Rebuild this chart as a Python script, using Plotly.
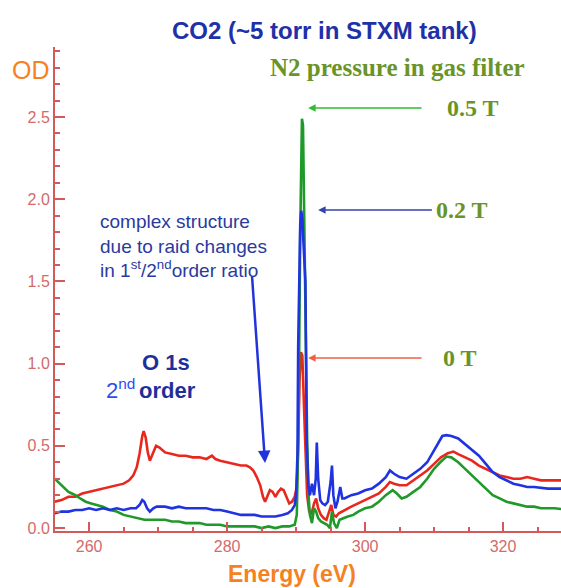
import plotly.graph_objects as go

# CO2 C 1s spectra, optical density vs photon energy, for three N2 gas-filter pressures
energy_0T = [255.0, 256.0, 257.0, 258.0, 259.0, 260.0, 261.0, 262.0, 263.0, 264.0, 265.0, 265.8,
             266.4, 266.9, 267.3, 267.7, 267.9, 268.2, 268.5, 268.8, 269.2, 269.7, 270.2, 271.0,
             272.0, 273.0, 274.0, 275.0, 276.0, 277.0, 277.8, 278.3, 279.0, 280.0, 281.0, 282.0,
             282.8, 283.3, 283.8, 284.3, 284.8, 285.2, 285.5, 285.8, 286.2, 286.6, 287.0, 287.4,
             287.8, 288.2, 288.6, 289.0, 289.4, 289.8, 290.1, 290.3, 290.5, 290.7, 290.9, 291.1,
             291.3, 291.6, 291.9, 292.2, 292.6, 292.9, 293.2, 293.6, 294.0, 294.4, 294.8, 295.1,
             295.4, 295.8, 296.2, 297.0, 298.0, 299.0, 300.0, 301.0, 302.0, 303.0, 303.6, 304.2,
             305.0, 306.0, 307.0, 308.0, 309.0, 310.0, 311.0, 312.0, 312.8, 313.5, 314.5, 315.5,
             316.5, 317.5, 318.5, 319.5, 320.5, 321.5, 322.5, 323.5, 324.5, 325.5, 326.5, 327.5,
             328.5]
od_0T = [0.16, 0.17, 0.19, 0.19, 0.21, 0.22, 0.23, 0.24, 0.25, 0.26, 0.27, 0.29,
         0.32, 0.37, 0.45, 0.56, 0.59, 0.55, 0.46, 0.41, 0.45, 0.50, 0.49, 0.46,
         0.45, 0.44, 0.44, 0.43, 0.43, 0.42, 0.44, 0.42, 0.41, 0.40, 0.39, 0.38,
         0.38, 0.37, 0.35, 0.31, 0.26, 0.19, 0.16, 0.19, 0.23, 0.22, 0.19, 0.22,
         0.24, 0.23, 0.19, 0.15, 0.16, 0.19, 0.25, 0.50, 0.90, 1.07, 1.05, 0.85,
         0.55, 0.20, 0.10, 0.08, 0.15, 0.18, 0.12, 0.08, 0.06, 0.05, 0.10, 0.14,
         0.08, 0.07, 0.09, 0.11, 0.13, 0.15, 0.17, 0.19, 0.21, 0.25, 0.28, 0.27,
         0.26, 0.26, 0.29, 0.32, 0.35, 0.39, 0.43, 0.455, 0.465, 0.45, 0.43, 0.41,
         0.38, 0.36, 0.34, 0.32, 0.31, 0.30, 0.30, 0.31, 0.30, 0.29, 0.29, 0.29,
         0.29]

energy_02T = [255.0, 256.0, 257.0, 258.0, 259.0, 260.0, 261.0, 262.0, 263.0, 264.0, 265.0, 266.0,
              266.8, 267.3, 267.7, 268.0, 268.4, 268.8, 269.3, 269.8, 271.0, 272.0, 273.0, 274.0,
              275.0, 276.0, 277.0, 278.0, 279.0, 280.0, 281.0, 282.0, 283.0, 284.0, 285.0, 286.0,
              287.0, 288.0, 288.8, 289.4, 289.8, 290.0, 290.2, 290.3, 290.45, 290.6, 290.75, 290.9,
              291.05, 291.2, 291.35, 291.45, 291.55, 291.8, 292.0, 292.3, 292.6, 292.85, 293.0, 293.2,
              293.5, 293.8, 294.2, 294.6, 295.0, 295.2, 295.4, 295.7, 296.0, 296.4, 296.7, 297.0,
              298.0, 299.0, 300.0, 301.0, 302.0, 303.0, 303.6, 304.2, 305.0, 306.0, 307.0, 308.0,
              309.0, 310.0, 310.6, 311.2, 311.8, 312.5, 313.5, 314.5, 315.5, 316.5, 317.5, 318.5,
              319.5, 320.5, 321.5, 322.5, 323.5, 324.5, 325.5, 326.5, 327.5, 328.5]
od_02T = [0.09, 0.10, 0.10, 0.11, 0.11, 0.12, 0.11, 0.12, 0.11, 0.12, 0.11, 0.12,
          0.12, 0.14, 0.17, 0.16, 0.12, 0.10, 0.12, 0.13, 0.13, 0.12, 0.13, 0.12,
          0.12, 0.12, 0.12, 0.11, 0.11, 0.10, 0.09, 0.08, 0.08, 0.08, 0.07, 0.07,
          0.07, 0.08, 0.09, 0.11, 0.14, 0.20, 0.45, 1.10, 1.60, 1.85, 1.93, 1.88,
          1.75, 1.65, 1.50, 1.00, 0.50, 0.25, 0.20, 0.27, 0.20, 0.30, 0.52, 0.30,
          0.17, 0.15, 0.14, 0.16, 0.28, 0.38, 0.20, 0.12, 0.16, 0.25, 0.18, 0.18,
          0.20, 0.21, 0.23, 0.24, 0.27, 0.31, 0.35, 0.33, 0.31, 0.30, 0.33, 0.36,
          0.40, 0.47, 0.52, 0.56, 0.565, 0.56, 0.545, 0.51, 0.48, 0.44, 0.39, 0.34,
          0.31, 0.29, 0.27, 0.26, 0.25, 0.25, 0.245, 0.24, 0.24, 0.24]

energy_05T = [255.0, 255.5, 256.0, 256.5, 257.0, 257.5, 258.0, 258.7, 259.5, 260.3, 261.0, 262.0,
              263.0, 264.0, 265.0, 266.0, 267.0, 268.0, 269.0, 270.0, 271.0, 272.0, 273.0, 274.0,
              275.0, 276.0, 277.0, 278.0, 279.0, 280.0, 281.0, 282.0, 283.0, 284.0, 285.0, 286.0,
              287.0, 288.0, 289.0, 289.8, 290.1, 290.35, 290.6, 290.85, 291.0, 291.15, 291.3, 291.45,
              291.6, 291.8, 292.0, 292.3, 292.6, 292.9, 293.2, 293.6, 294.0, 294.5, 294.9, 295.2,
              295.5, 295.9, 296.3, 296.8, 297.5, 298.3, 299.0, 300.0, 301.0, 302.0, 303.0, 304.0,
              304.6, 305.3, 306.0, 307.0, 308.0, 309.0, 310.0, 310.9, 311.8, 312.5, 313.5, 314.5,
              315.5, 316.5, 317.5, 318.5, 319.5, 320.5, 321.5, 322.5, 323.5, 324.5, 325.5, 326.5,
              327.5, 328.5]
od_05T = [0.30, 0.28, 0.26, 0.24, 0.22, 0.21, 0.20, 0.18, 0.16, 0.15, 0.14, 0.13,
          0.11, 0.10, 0.08, 0.07, 0.06, 0.05, 0.05, 0.05, 0.05, 0.04, 0.04, 0.03,
          0.03, 0.03, 0.02, 0.02, 0.02, 0.01, 0.01, 0.01, 0.01, 0.01, 0.00, 0.01,
          0.00, 0.01, 0.01, 0.02, 0.08, 0.60, 1.80, 2.49, 2.45, 1.95, 1.70, 1.20,
          0.55, 0.20, 0.08, 0.03, 0.12, 0.10, 0.06, 0.04, 0.03, 0.02, 0.00, 0.10,
          0.03, 0.00, 0.05, 0.06, 0.07, 0.08, 0.10, 0.12, 0.13, 0.16, 0.20, 0.23,
          0.21, 0.18, 0.19, 0.22, 0.25, 0.30, 0.36, 0.40, 0.435, 0.43, 0.40, 0.36,
          0.32, 0.28, 0.24, 0.20, 0.18, 0.16, 0.15, 0.14, 0.13, 0.13, 0.12, 0.12,
          0.12, 0.115]

# pressure labels next to the π* peak
peak_labels = ["0.5 T", "0.2 T", "0 T"]

AXIS = "#d45a5a"
TICKFONT = dict(family="Liberation Sans, Arial", size=16, color="#d46a6a")

fig = go.Figure()
fig.add_trace(go.Scatter(x=energy_0T, y=od_0T, mode="lines", name="0 T",
                         line=dict(color="#e8281e", width=2.6)))
fig.add_trace(go.Scatter(x=energy_05T, y=od_05T, mode="lines", name="0.5 T",
                         line=dict(color="#1f9a2a", width=2.6)))
fig.add_trace(go.Scatter(x=energy_02T, y=od_02T, mode="lines", name="0.2 T",
                         line=dict(color="#1f33e0", width=2.6)))

fig.update_xaxes(range=[255.05, 328.4], showline=True, linecolor=AXIS, linewidth=2,
                 ticks="inside", ticklen=9, tickwidth=1.5, tickcolor=AXIS,
                 tick0=260, dtick=20, tickfont=TICKFONT, showgrid=False, zeroline=False,
                 minor=dict(ticks="inside", dtick=5, ticklen=4, tickcolor=AXIS, tickwidth=1.5))
fig.update_yaxes(range=[-0.018, 2.926], showline=True, linecolor=AXIS, linewidth=2,
                 ticks="inside", ticklen=10, tickwidth=1.5, tickcolor=AXIS,
                 tick0=0, dtick=0.5, tickformat=".1f", tickfont=TICKFONT,
                 showgrid=False, zeroline=False,
                 minor=dict(ticks="inside", dtick=0.1, ticklen=5, tickcolor=AXIS, tickwidth=1.5))

SANS = "Liberation Sans, Arial"
SERIF = "Liberation Serif, Times New Roman"
OLIVE = "#6a9428"

ann = []
ann.append(dict(text="<b>CO2 (~5 torr in STXM tank)</b>", x=0.532, y=1.035,
                font=dict(family=SANS, size=24, color="#2030a8")))
ann.append(dict(text="OD", x=-0.047, y=0.952, font=dict(family=SANS, size=25, color="#f5821f")))
ann.append(dict(text="<b>N2 pressure in gas filter</b>", x=0.676, y=0.957,
                font=dict(family=SERIF, size=25, color=OLIVE)))
ann.append(dict(text="<b>Energy (eV)</b>", x=0.468, y=-0.088,
                font=dict(family=SANS, size=23, color="#f5821f")))
for label, px, py in zip(peak_labels, [0.826, 0.804, 0.800], [0.874, 0.663, 0.357]):
    ann.append(dict(text="<b>%s</b>" % label, x=px, y=py,
                    font=dict(family=SERIF, size=24, color=OLIVE)))
ann.append(dict(text="complex structure<br>due to raid changes<br>in 1<sup>st</sup>/2<sup>nd</sup>order ratio",
                x=0.085, y=0.589, xanchor="left", align="left",
                font=dict(family=SANS, size=19, color="#2a3a9e")))
ann.append(dict(text="<b>O 1s</b>", x=0.219, y=0.349, font=dict(family=SANS, size=22, color="#1f2f9a")))
ann.append(dict(text="<b>order</b>", x=0.223, y=0.291, font=dict(family=SANS, size=22, color="#1f2f9a")))
ann.append(dict(text="2<sup>nd</sup>", x=0.162, y=0.293, xanchor="right",
                font=dict(family=SANS, size=22, color="#2a4ff0")))
for a in ann:
    a.setdefault("xref", "paper")
    a.setdefault("yref", "paper")
    a.setdefault("showarrow", False)
    a.setdefault("xanchor", "center")
    a.setdefault("yanchor", "middle")

# arrows from the pressure labels to the π* peak of each spectrum
arrows = [
    (291.74, 2.555, 308.4, 2.555, "#33bb33", 1.5),
    (293.19, 1.934, 309.9, 1.934, "#3344aa", 1.5),
    (291.74, 1.034, 308.4, 1.034, "#f06040", 1.5),
    (285.5, 0.395, 283.6, 1.539, "#2233dd", 2.5),
]
for x, y, ax, ay, col, w in arrows:
    ann.append(dict(x=x, y=y, ax=ax, ay=ay, xref="x", yref="y", axref="x", ayref="y",
                    text="", showarrow=True, arrowhead=2, arrowsize=1, arrowwidth=w,
                    arrowcolor=col))

fig.update_layout(width=561, height=588, margin=dict(l=55, r=0, t=47, b=57),
                  paper_bgcolor="white", plot_bgcolor="white", showlegend=False,
                  annotations=ann)

fig.write_html("out.html")
